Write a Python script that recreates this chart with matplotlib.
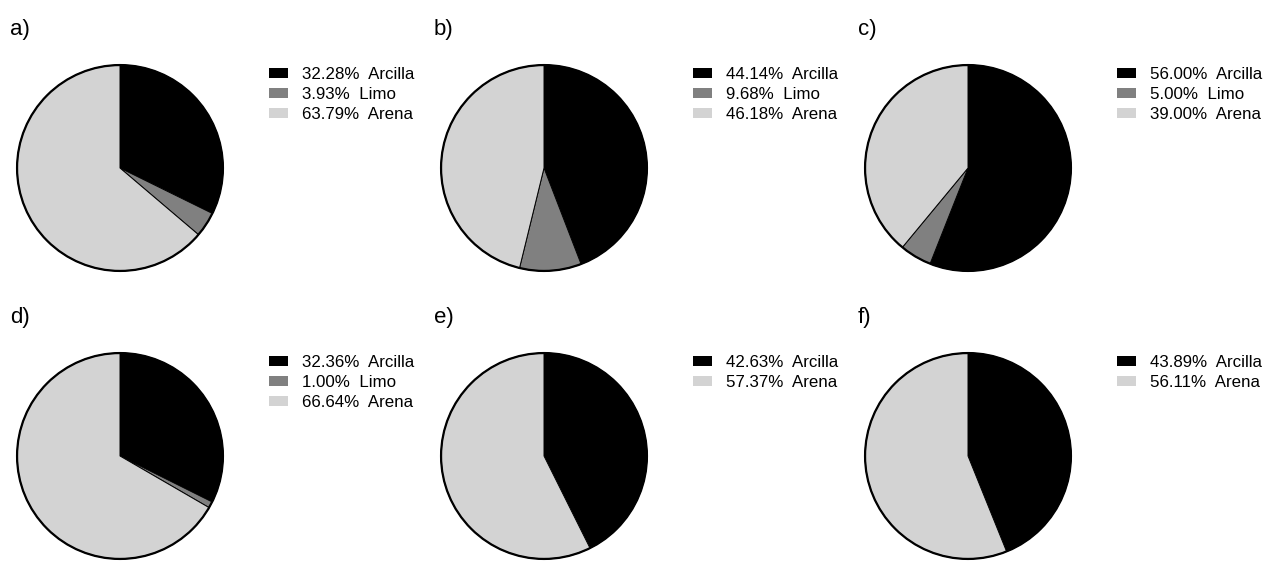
import matplotlib.pyplot as plt
from matplotlib.patches import Circle

plt.rcParams['font.family'] = ['Liberation Sans', 'DejaVu Sans']

panels = ['a)', 'b)', 'c)', 'd)', 'e)', 'f)']
arcilla = [32.28, 44.14, 56.00, 32.36, 42.63, 43.89]
limo = [3.93, 9.68, 5.00, 1.00, None, None]
arena = [63.79, 46.18, 39.00, 66.64, 57.37, 56.11]
names = ['Arcilla', 'Limo', 'Arena']
colors = ['#000000', '#808080', '#d3d3d3']

W, H = 1266, 562
fig = plt.figure(figsize=(W / 100, H / 100), dpi=100)

r = 105
centers_x = [120, 544, 968]
centers_y = [168, 456]

for i, lab in enumerate(panels):
    cx = centers_x[i % 3]
    cy = centers_y[i // 3]
    ax = fig.add_axes([(cx - r) / W, 1 - (cy + r) / H, 2 * r / W, 2 * r / H])
    vals, cols, labels = [], [], []
    for name, col, v in zip(names, colors, [arcilla[i], limo[i], arena[i]]):
        if v is None:
            continue
        vals.append(v)
        cols.append(col)
        labels.append(f'{v:.2f}%  {name}')
    wedges, _ = ax.pie(vals, colors=cols, startangle=90, counterclock=False,
                       radius=1, wedgeprops=dict(edgecolor='black', linewidth=0.7))
    ax.add_patch(Circle((0, 0), 1, fill=False, edgecolor='black', linewidth=1.6))
    ax.set_xlim(-1.02, 1.02)
    ax.set_ylim(-1.02, 1.02)
    ax.set_aspect('equal')
    ax.axis('off')

    fig.text((cx - 110) / W, 1 - (cy - 138) / H, lab, fontsize=16,
             ha='left', va='center')
    handles = [plt.Rectangle((0, 0), 1, 1, facecolor=c, edgecolor='none') for c in cols]
    ax.legend(handles, labels, loc='upper left', frameon=False,
              bbox_to_anchor=((cx + 149) / W, 1 - (cy - 101) / H),
              bbox_transform=fig.transFigure, fontsize=12.2,
              handlelength=1.15, handleheight=0.55, handletextpad=0.8,
              labelspacing=0.29, borderpad=0, borderaxespad=0)

fig.savefig('out.png', dpi=100)
